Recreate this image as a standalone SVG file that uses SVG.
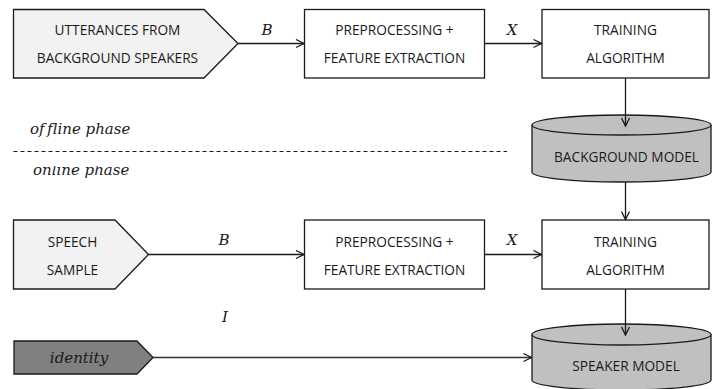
<svg xmlns="http://www.w3.org/2000/svg" width="712" height="389" viewBox="0 0 712 389">
  <defs>
    <style>
      .box { fill: #ffffff; stroke: #1a1a1a; stroke-width: 1.3; }
      .src { fill: #f2f2f2; stroke: #1a1a1a; stroke-width: 1.3; }
      .ident { fill: #808080; stroke: #1a1a1a; stroke-width: 1.3; }
      .db { fill: #c0c0c0; stroke: #1a1a1a; stroke-width: 1.3; }
      .lbl { font-family: "Open Sans", "Noto Sans", "Liberation Sans", sans-serif; font-size: 13.7px; fill: #1a1a1a; text-anchor: middle; }
      .math { font-family: "DejaVu Serif", "Liberation Serif", serif; font-style: italic; font-size: 15px; fill: #1a1a1a; font-variant-ligatures: none; }
      .mid { text-anchor: middle; }
      .conn { fill: none; stroke: #1a1a1a; stroke-width: 1.3; marker-end: url(#arrow); }
    </style>
    <marker id="arrow" markerUnits="userSpaceOnUse" markerWidth="12" markerHeight="10" refX="8" refY="4" orient="auto" viewBox="-1 -1 10 10">
      <path d="M0,0 L8,4 L0,8" fill="none" stroke="#1a1a1a" stroke-width="1.3"/>
    </marker>
    <clipPath id="onlineClip">
      <rect x="0" y="166.3" width="200" height="20"/>
    </clipPath>
  </defs>

  <rect width="712" height="389" fill="#ffffff"/>

  <!-- phase separator -->
  <g id="phases">
    <line x1="13.5" y1="151.5" x2="507" y2="151.5" stroke="#1a1a1a" stroke-width="1" stroke-dasharray="4 3"/>
    <text class="math" x="30" y="134">of<tspan dx="2.5">fline phase</tspan></text>
    <text class="math" x="33" y="175" clip-path="url(#onlineClip)">online phase</text>
  </g>

  <g id="background-speakers">
    <path class="src" d="M13.5,9.5 H204 L238,43.5 L204,78 H13.5 Z"/>
    <text class="lbl" x="117.5" y="35">UTTERANCES FROM</text>
    <text class="lbl" x="117.5" y="63">BACKGROUND SPEAKERS</text>
  </g>

  <g id="preprocessing-offline">
    <rect class="box" x="304.5" y="9.5" width="180" height="68.5"/>
    <text class="lbl" x="394.5" y="35">PREPROCESSING +</text>
    <text class="lbl" x="394.5" y="63">FEATURE EXTRACTION</text>
  </g>

  <g id="training-offline">
    <rect class="box" x="542" y="9.5" width="167" height="68.5"/>
    <text class="lbl" x="625.5" y="35">TRAINING</text>
    <text class="lbl" x="625.5" y="63">ALGORITHM</text>
  </g>

  <g id="background-model">
    <path class="db" d="M532,125 A89.5,10 0 0 1 711,125 V172 A89.5,10 0 0 1 532,172 Z"/>
    <path class="db" d="M532,125 A89.5,10 0 0 0 711,125" fill="none"/>
    <text class="lbl" x="626.5" y="161.5">BACKGROUND MODEL</text>
  </g>

  <g id="speech-sample">
    <path class="src" d="M13.5,220 H115 L148.5,254.5 L115,289 H13.5 Z"/>
    <text class="lbl" x="72.5" y="246.5">SPEECH</text>
    <text class="lbl" x="72.5" y="274.5">SAMPLE</text>
  </g>

  <g id="preprocessing-online">
    <rect class="box" x="304.5" y="220" width="180" height="69"/>
    <text class="lbl" x="394.5" y="246.5">PREPROCESSING +</text>
    <text class="lbl" x="394.5" y="274.5">FEATURE EXTRACTION</text>
  </g>

  <g id="training-online">
    <rect class="box" x="542" y="220" width="167" height="69"/>
    <text class="lbl" x="625.5" y="246.5">TRAINING</text>
    <text class="lbl" x="625.5" y="274.5">ALGORITHM</text>
  </g>

  <g id="identity">
    <path class="ident" d="M14,341 H137 L153,357.5 L137,374 H14 Z"/>
    <text class="math mid" x="79" y="363">identity</text>
  </g>

  <g id="speaker-model">
    <path class="db" d="M532,334.5 A89.5,10.5 0 0 1 711,334.5 V380 A89.5,10 0 0 1 532,380 Z"/>
    <path class="db" d="M532,334.5 A89.5,10.5 0 0 0 711,334.5" fill="none"/>
    <text class="lbl" x="626" y="370.5">SPEAKER MODEL</text>
  </g>

  <!-- connectors, drawn last so the arrowheads sit on top of the cylinders -->
  <g id="connectors">
    <line class="conn" x1="238" y1="43.5" x2="304" y2="43.5"/>
    <line class="conn" x1="484.5" y1="43.5" x2="541.5" y2="43.5"/>
    <line class="conn" x1="625.5" y1="78" x2="625.5" y2="126"/>
    <line class="conn" x1="625.5" y1="182" x2="625.5" y2="219.5"/>
    <line class="conn" x1="148.5" y1="254.5" x2="304" y2="254.5"/>
    <line class="conn" x1="484.5" y1="254.5" x2="541.5" y2="254.5"/>
    <line class="conn" x1="625.5" y1="289" x2="625.5" y2="335"/>
    <line class="conn" x1="153" y1="357.5" x2="531.5" y2="357.5" style="stroke:#333333"/>
    <text class="math mid" x="267" y="34.5">B</text>
    <text class="math mid" x="512" y="34.5">X</text>
    <text class="math mid" x="224" y="245">B</text>
    <text class="math mid" x="512" y="245">X</text>
    <text class="math mid" x="225" y="322">I</text>
  </g>
</svg>
